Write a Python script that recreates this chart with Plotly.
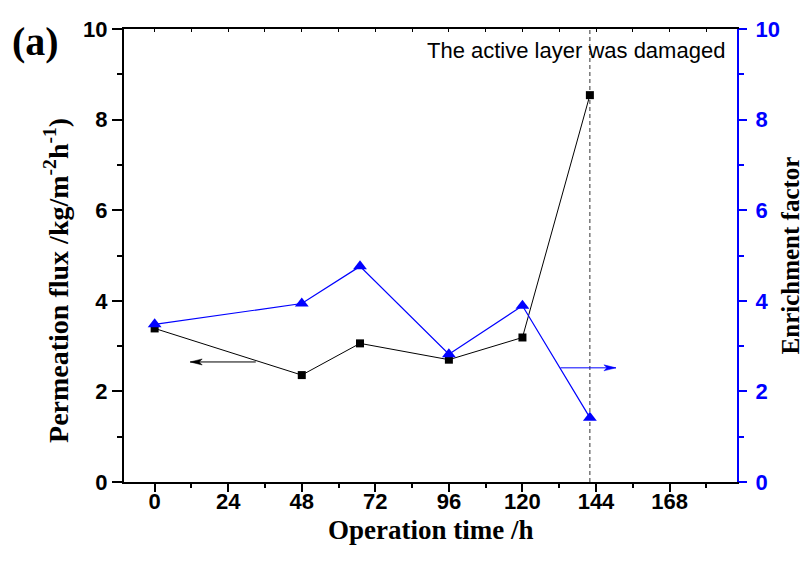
import plotly.graph_objects as go

# ---- data ----
time_h = [0, 48, 67, 96, 120, 142]
flux = [3.39, 2.36, 3.06, 2.70, 3.19, 8.54]          # Permeation flux (left axis)
enrichment = [3.48, 3.94, 4.76, 2.82, 3.89, 1.42]    # Enrichment factor (right axis)
damage_time = 142
x_ticks = [0, 24, 48, 72, 96, 120, 144, 168]
y_ticks = [0, 2, 4, 6, 8, 10]
# arrows: (tail_x, head_x, y)
flux_arrow = (33, 11.6, 2.65)
enrich_arrow = (132.4, 150.5, 2.52)

BLUE = "#0000FF"
SERIF = "Times New Roman, Liberation Serif, serif"
SANS = "Arial, Liberation Sans, sans-serif"

fig = go.Figure()

fig.add_trace(go.Scatter(
    x=time_h, y=flux, mode="lines+markers", yaxis="y", xaxis="x",
    line=dict(color="black", width=1),
    marker=dict(symbol="square", size=8, color="black"),
    name="Permeation flux"))

fig.add_trace(go.Scatter(
    x=time_h, y=enrichment, mode="lines+markers", yaxis="y2", xaxis="x",
    line=dict(color=BLUE, width=1.2),
    marker=dict(symbol="triangle-up", size=12, color=BLUE),
    name="Enrichment factor"))

# invisible trace for the top (mirror) axis
fig.add_trace(go.Scatter(x=[time_h[0]], y=[flux[0]], xaxis="x2", yaxis="y",
                         mode="markers", marker=dict(opacity=0), hoverinfo="skip",
                         showlegend=False))

tickfont = dict(family=SANS, size=22, color="black", weight="bold")
titlefont = dict(family=SERIF, size=28, color="black", weight="bold")

# the page adds an 8 px body margin, so the figure is offset by 8 px
fig.update_layout(
    width=801, height=546,
    margin=dict(l=116, r=72, t=21, b=72, autoexpand=False),
    plot_bgcolor="white", paper_bgcolor="white",
    showlegend=False,
    xaxis=dict(
        range=[-10, 190], tickmode="array", tickvals=x_ticks, automargin=False,
        ticks="outside", ticklen=8, tickwidth=1.5, tickcolor="black",
        showline=True, linewidth=2, linecolor="black", ticklabelstandoff=-9,
        showgrid=False, zeroline=False, tickfont=tickfont,
        minor=dict(tickmode="linear", tick0=12, dtick=24, ticks="outside",
                   ticklen=4, tickwidth=1.5, tickcolor="black", showgrid=False),
    ),
    xaxis2=dict(
        range=[-10, 190], overlaying="x", side="top", anchor="y", automargin=False,
        tickmode="linear", tick0=0, dtick=12, ticks="inside", ticklen=3,
        tickwidth=1, tickcolor="black", showticklabels=False,
        showline=True, linewidth=1.5, linecolor="black",
        showgrid=False, zeroline=False,
    ),
    yaxis=dict(
        range=[0, 10], tickmode="array", tickvals=y_ticks, automargin=False,
        ticks="outside", ticklen=10, tickwidth=1.5, tickcolor="black",
        showline=True, linewidth=2, linecolor="black",
        showgrid=False, zeroline=False, tickfont=tickfont,
        minor=dict(tickmode="linear", tick0=1, dtick=2, ticks="outside",
                   ticklen=5, tickwidth=1.5, tickcolor="black", showgrid=False),
    ),
    yaxis2=dict(
        range=[0, 10], overlaying="y", side="right", anchor="x", automargin=False,
        tickmode="array", tickvals=y_ticks, ticklabelstandoff=4,
        ticks="outside", ticklen=8, tickwidth=1.5, tickcolor=BLUE,
        showline=True, linewidth=2, linecolor=BLUE,
        showgrid=False, zeroline=False,
        tickfont=dict(family=SANS, size=22, color=BLUE, weight="bold"),
        minor=dict(tickmode="linear", tick0=1, dtick=2, ticks="outside",
                   ticklen=5, tickwidth=1.5, tickcolor=BLUE, showgrid=False),
    ),
)

# vertical dashed line where the active layer was damaged
fig.add_shape(type="line", xref="x", yref="y", x0=damage_time, x1=damage_time,
              y0=0, y1=10, layer="below",
              line=dict(color="#333333", width=1, dash="4px,3px"))

# arrow shafts
fig.add_shape(type="line", xref="x", yref="y", x0=flux_arrow[0], x1=flux_arrow[1],
              y0=flux_arrow[2], y1=flux_arrow[2], line=dict(color="black", width=1))
fig.add_shape(type="line", xref="x", yref="y2", x0=enrich_arrow[0], x1=enrich_arrow[1],
              y0=enrich_arrow[2], y1=enrich_arrow[2], line=dict(color=BLUE, width=1))
# arrow heads (pixel-sized paths anchored at arrow tips)
fig.add_shape(type="path", xref="x", yref="y", xsizemode="pixel", ysizemode="pixel",
              xanchor=flux_arrow[1], yanchor=flux_arrow[2],
              path="M0,0 L12,3 L9,0 L12,-3 Z", fillcolor="black",
              line=dict(color="black", width=0.5))
fig.add_shape(type="path", xref="x", yref="y2", xsizemode="pixel", ysizemode="pixel",
              xanchor=enrich_arrow[1], yanchor=enrich_arrow[2],
              path="M0,0 L-12,3 L-9,0 L-12,-3 Z", fillcolor=BLUE,
              line=dict(color=BLUE, width=0.5))

# axis titles
fig.add_annotation(text="Operation time /h", xref="paper", yref="paper",
                   x=0.5, y=-0.105, xanchor="center", yanchor="middle",
                   showarrow=False,
                   font=dict(family=SERIF, size=27, color="black", weight="bold"))
fig.add_annotation(text="Permeation flux /kg/m<sup>-2</sup>h<sup>-1</sup>)",
                   xref="paper", yref="paper", x=-0.1093, y=0.446,
                   xanchor="center", yanchor="middle", textangle=-90,
                   showarrow=False, font=titlefont)
fig.add_annotation(text="Enrichment factor", xref="paper", yref="paper",
                   x=1.088, y=0.5, xanchor="center", yanchor="middle",
                   textangle=-90, showarrow=False,
                   font=dict(family=SERIF, size=25, color="black", weight="bold"))

fig.add_annotation(text="The active layer was damaged", xref="x", yref="y",
                   x=137.4, y=9.53, showarrow=False, xanchor="center", yanchor="middle",
                   font=dict(family=SANS, size=22, color="black"))
fig.add_annotation(text="(a)", xref="paper", yref="paper", x=-0.1436, y=0.9735,
                   xanchor="center", yanchor="middle", showarrow=False,
                   font=dict(family=SERIF, size=40, color="black", weight="bold"))

fig.write_html("out.html")
